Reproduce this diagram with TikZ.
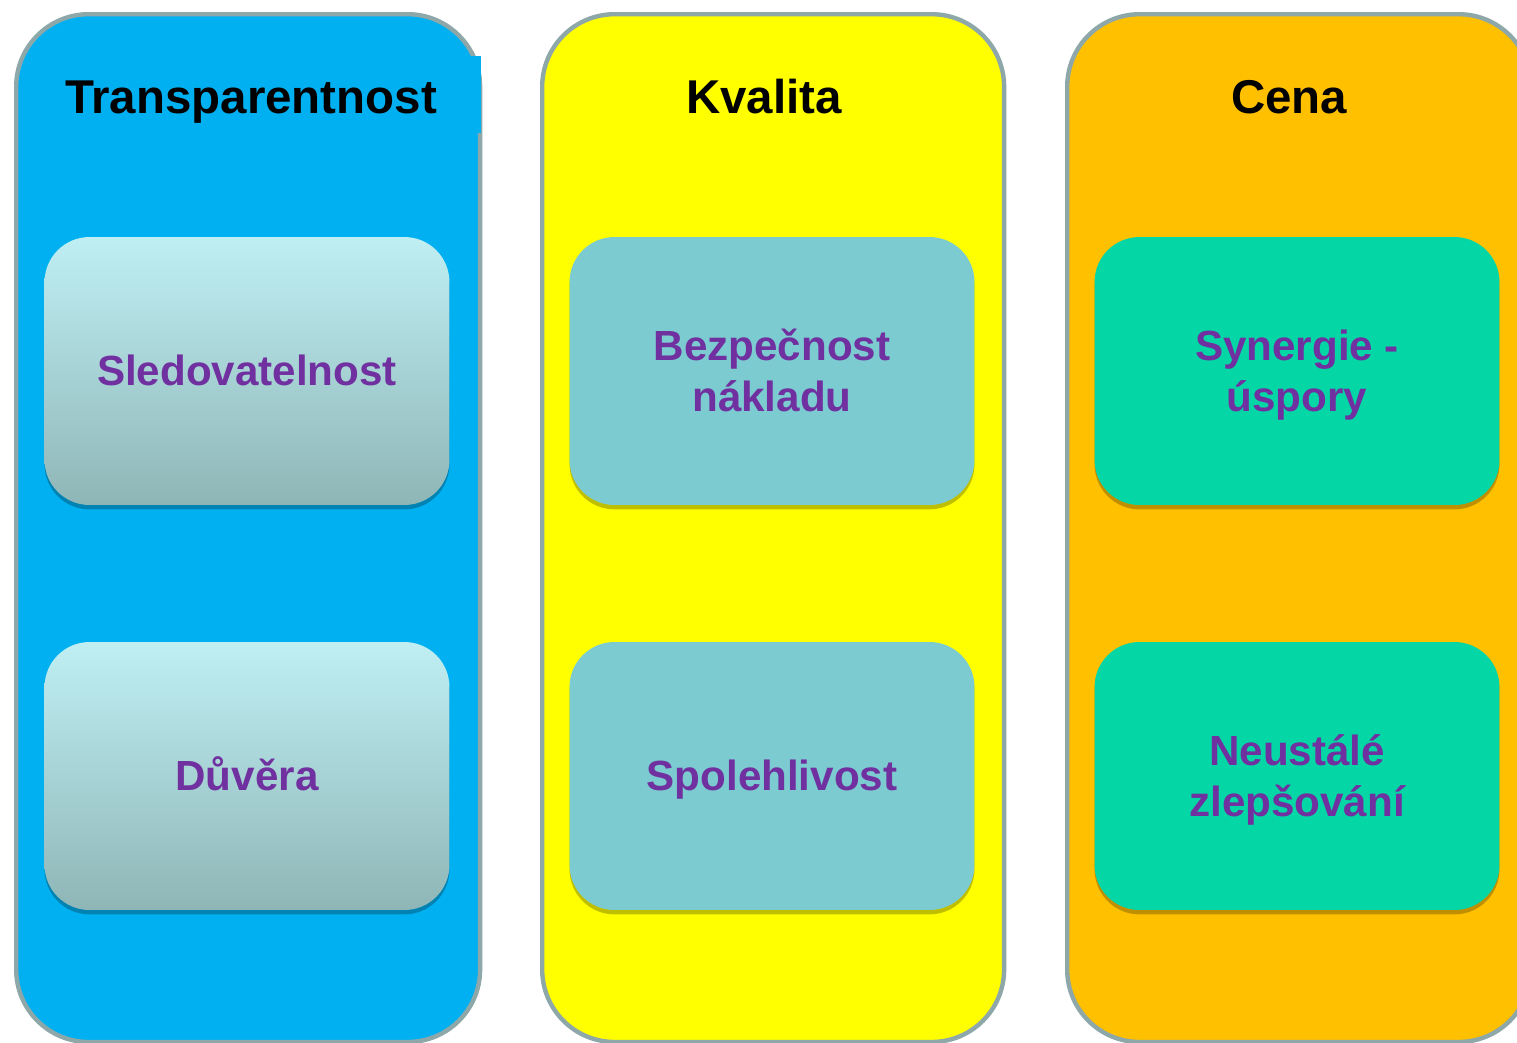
\documentclass[tikz,border=0pt]{standalone}
\usepackage{fontspec}
\setmainfont{Liberation Sans}
\usetikzlibrary{shadows}
\definecolor{colblue}{HTML}{00B0F0}
\definecolor{colyellow}{HTML}{FFFF00}
\definecolor{colorange}{HTML}{FFC000}
\definecolor{framegray}{HTML}{8EA7A9}
\definecolor{cardtext}{HTML}{7030A0}
\definecolor{cardtop}{HTML}{BFEFF3}
\definecolor{cardbottom}{HTML}{8FB6B7}
\definecolor{cardteal}{HTML}{7CCBD0}
\definecolor{cardgreen}{HTML}{04D6A5}
% line box of the font, so labels sit as on the slide
\newcommand\cardstrut{\rule[-0.212em]{0pt}{1.117em}}
\tikzset{
  column/.style={draw=framegray, line width=2.5pt, rounded corners=1.45cm,
    minimum width=9.28cm, minimum height=20.56cm, anchor=north west, inner sep=0pt},
  coltitle/.style={font=\bfseries\fontsize{27}{32}\selectfont, text=black, anchor=base},
  card/.style={rounded corners=0.9cm, minimum width=8.1cm, minimum height=5.36cm,
    inner sep=0pt, align=center, text=cardtext,
    font=\bfseries\fontsize{24}{29}\selectfont,
    drop shadow={shadow xshift=0pt, shadow yshift=-2.5pt, opacity=0.25, fill=black}},
}
\begin{document}
\begin{tikzpicture}[x=0.02cm, y=-0.02cm]
	\useasboundingbox (0,0) rectangle (1517,1042);
	\clip (0,0) rectangle (1517,1042);
	% three columns
	\node[column, fill=colblue] (c1) at (14,12) {};
	\node[column, fill=colyellow, minimum width=9.24cm] (c2) at (540,12) {};
	\node[column, fill=colorange] (c3) at (1065,12) {};
	\fill[colblue] (470,56) rectangle (481,133);
	\node[coltitle] (t1) at (251,113) {Transparentnost};
	\node[coltitle] (t2) at (764,113) {Kvalita};
	\node[coltitle] (t3) at (1289,113) {Cena};
	% cards
	\node[card, top color=cardtop, bottom color=cardbottom] (s1) at (247,371) {\cardstrut Sledovatelnost};
	\node[card, top color=cardtop, bottom color=cardbottom] (s2) at (247,776) {\cardstrut Důvěra};
	\node[card, fill=cardteal] (k1) at (772,371) {\cardstrut Bezpečnost\\\cardstrut nákladu};
	\node[card, fill=cardteal] (k2) at (772,776) {\cardstrut Spolehlivost};
	\node[card, fill=cardgreen] (p1) at (1297,371) {\cardstrut Synergie -\\\cardstrut úspory};
	\node[card, fill=cardgreen] (p2) at (1297,776) {\cardstrut Neustálé\\\cardstrut zlepšování};
\end{tikzpicture}
\end{document}
